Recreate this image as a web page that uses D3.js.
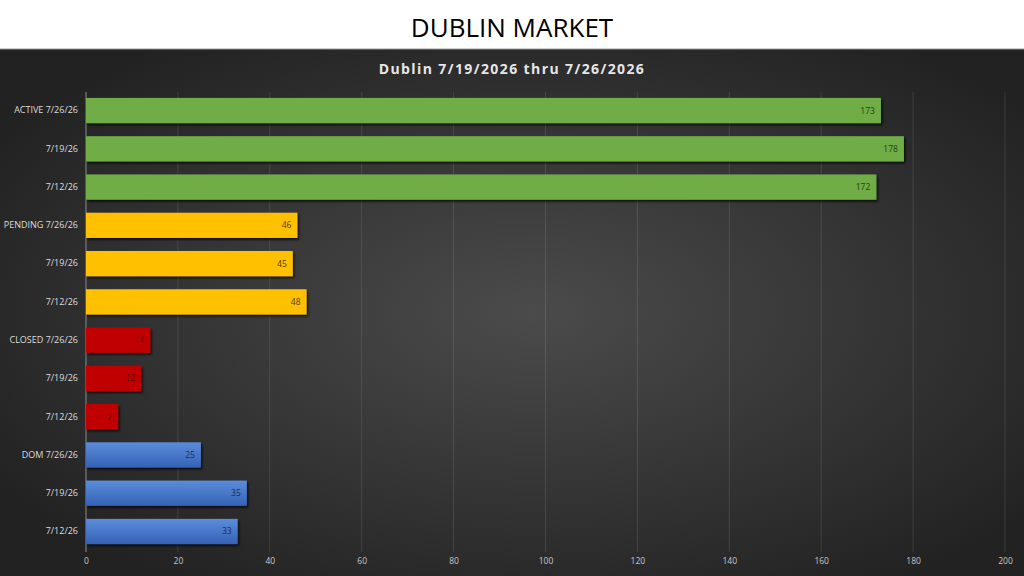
<!DOCTYPE html>
<html lang="en">
<head>
  <meta charset="UTF-8">
  <title>Dublin Market</title>
  <script src="https://cdn.jsdelivr.net/npm/d3@7"></script>
  <style>
    html, body { margin: 0; padding: 0; background: #fff; }
    svg { display: block; }
  </style>
</head>
<body>
<div id="chart"></div>

<script>
// data
const categories = ["ACTIVE 7/26/26", "7/19/26", "7/12/26",
                    "PENDING 7/26/26", "7/19/26 ", "7/12/26 ",
                    "CLOSED 7/26/26", "7/19/26  ", "7/12/26  ",
                    "DOM 7/26/26", "7/19/26   ", "7/12/26   "];
const values = [173, 178, 172, 46, 45, 48, 14, 12, 7, 25, 35, 33];
const groups = ["active", "active", "active", "pending", "pending", "pending",
                "closed", "closed", "closed", "dom", "dom", "dom"];
const xTicks = [0, 20, 40, 60, 80, 100, 120, 140, 160, 180, 200];

const W = 1024, H = 576;
const panelTop = 49;

const fill = { active: "#70ad47", pending: "#ffc000", closed: "#c00000", dom: "url(#blueGrad)" };
const labelColor = { active: "#26401a", pending: "#4d3a00", closed: "#5a0000", dom: "#1a2c5a" };

const svg = d3.select("#chart").append("svg")
  .attr("width", W)
  .attr("height", H);

const defs = svg.append("defs");

const bg = defs.append("radialGradient").attr("id", "bgGrad")
  .attr("cx", "52%").attr("cy", "50%").attr("r", "62%");
bg.append("stop").attr("offset", "0%").attr("stop-color", "#4b4b4b");
bg.append("stop").attr("offset", "100%").attr("stop-color", "#222222");

const blue = defs.append("linearGradient").attr("id", "blueGrad")
  .attr("x1", 0).attr("y1", 0).attr("x2", 0).attr("y2", 1);
blue.append("stop").attr("offset", "0%").attr("stop-color", "#5b8ddb");
blue.append("stop").attr("offset", "100%").attr("stop-color", "#3462b5");

const shadow = defs.append("filter").attr("id", "shadow")
  .attr("x", "-5%").attr("y", "-20%").attr("width", "115%").attr("height", "160%");
shadow.append("feDropShadow").attr("dx", 1.5).attr("dy", 2).attr("stdDeviation", 1.2)
  .attr("flood-color", "#000").attr("flood-opacity", 0.7);

// white title band
svg.append("rect").attr("width", W).attr("height", panelTop).attr("fill", "#fff");
svg.append("text")
  .attr("x", W / 2).attr("y", 37)
  .attr("text-anchor", "middle")
  .attr("font-family", "Open Sans, Liberation Sans, sans-serif")
  .attr("font-size", 26)
  .attr("fill", "#000")
  .text("DUBLIN MARKET");

// dark panel
svg.append("rect").attr("y", panelTop).attr("width", W).attr("height", H - panelTop)
  .attr("fill", "url(#bgGrad)");
svg.append("line").attr("x1", 0).attr("x2", W).attr("y1", panelTop).attr("y2", panelTop)
  .attr("stroke", "#9a9a9a").attr("stroke-width", 1);

svg.append("text")
  .attr("x", W / 2).attr("y", 74)
  .attr("text-anchor", "middle")
  .attr("font-family", "Open Sans, DejaVu Sans, sans-serif")
  .attr("font-weight", "bold")
  .attr("font-size", 14)
  .attr("letter-spacing", 1.4)
  .attr("fill", "#e6e6e6")
  .text("Dublin 7/19/2026 thru 7/26/2026");

const x = d3.scaleLinear().domain([0, 200]).range([86, 1005]);
const y = d3.scaleBand().domain(categories).range([91.4, 550.6]).paddingInner(0.34).paddingOuter(0.17);

// gridlines
svg.append("g")
  .selectAll("line")
  .data(xTicks)
  .join("line")
  .attr("x1", d => x(d)).attr("x2", d => x(d))
  .attr("y1", 92).attr("y2", 552)
  .attr("stroke", d => d === 0 ? "#8c8c8c" : "rgba(255,255,255,0.11)")
  .attr("stroke-width", 1);

// x axis labels
const xAxis = svg.append("g")
  .attr("transform", "translate(0,552)")
  .call(d3.axisBottom(x).tickValues(xTicks).tickSize(0).tickPadding(6));
xAxis.select(".domain").remove();
xAxis.selectAll("text")
  .attr("font-family", "Open Sans, DejaVu Sans, sans-serif")
  .attr("font-size", 8.5)
  .attr("fill", "#c8c8c8");

// category labels
const yAxis = svg.append("g")
  .attr("transform", "translate(78,0)")
  .call(d3.axisLeft(y).tickSize(0).tickPadding(0).tickFormat(d => d.trim()));
yAxis.select(".domain").remove();
yAxis.selectAll("text")
  .attr("font-family", "Open Sans, DejaVu Sans, sans-serif")
  .attr("font-size", 9)
  .attr("fill", "#dcdcdc");

// bars
svg.append("g")
  .selectAll("rect")
  .data(values)
  .join("rect")
  .attr("x", x(0))
  .attr("y", (d, i) => y(categories[i]))
  .attr("width", d => x(d) - x(0))
  .attr("height", y.bandwidth())
  .attr("fill", (d, i) => fill[groups[i]])
  .attr("filter", "url(#shadow)");

// value labels
svg.append("g")
  .selectAll("text")
  .data(values)
  .join("text")
  .attr("x", d => x(d) - 6)
  .attr("y", (d, i) => y(categories[i]) + y.bandwidth() / 2)
  .attr("dy", "0.35em")
  .attr("text-anchor", "end")
  .attr("font-family", "Open Sans, DejaVu Sans, sans-serif")
  .attr("font-size", 8.5)
  .attr("fill", (d, i) => labelColor[groups[i]])
  .text(d => d);
</script>
</body>
</html>
